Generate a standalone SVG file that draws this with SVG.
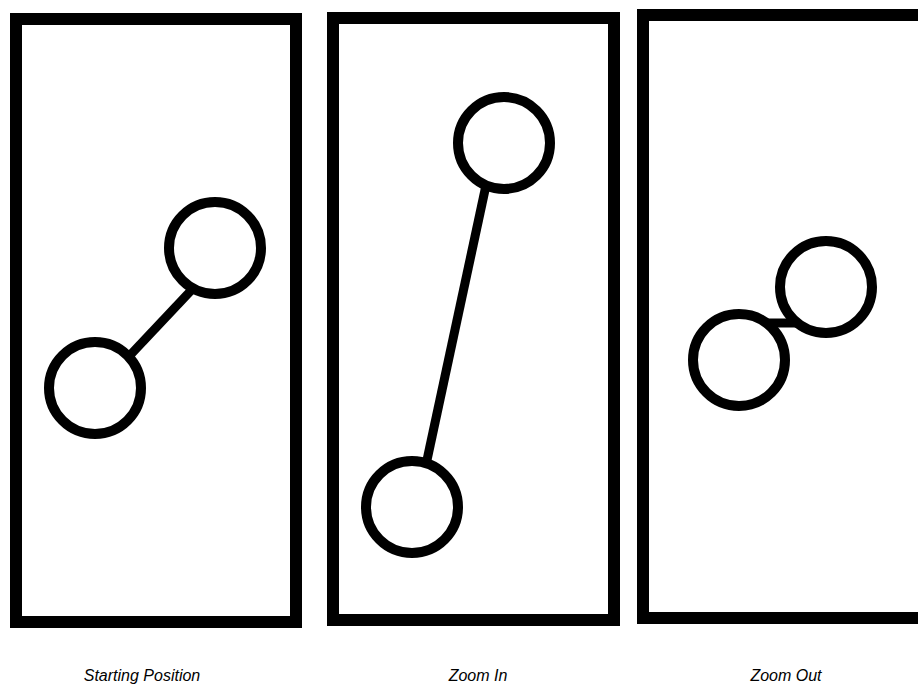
<svg xmlns="http://www.w3.org/2000/svg" width="918" height="684" viewBox="0 0 918 684">
<style>
.frame{fill:none;stroke:#000;stroke-width:12}
.node{fill:#fff;stroke:#000;stroke-width:10}
.edge{stroke:#000;stroke-width:9;fill:none}
.label{font-family:"Liberation Sans",Arial,sans-serif;font-size:16px;font-style:italic;fill:#000;text-anchor:middle}
</style>
<rect width="918" height="684" fill="#fff"/>
<g id="frames">
<rect class="frame" x="16" y="19" width="280" height="603"/>
<rect class="frame" x="333" y="18" width="281" height="602"/>
<rect class="frame" x="643" y="15" width="285" height="603"/>
</g>
<g id="connectors">
<line class="edge" x1="118" y1="368" x2="200" y2="281"/>
<line class="edge" x1="421" y1="488" x2="491" y2="162"/>
<line class="edge" x1="760" y1="323" x2="800" y2="323"/>
</g>
<g id="start-a"><circle class="node" cx="95" cy="388" r="46"/></g>
<g id="start-b"><circle class="node" cx="215" cy="248" r="46"/></g>
<g id="zoomin-a"><circle class="node" cx="412" cy="507" r="46"/></g>
<g id="zoomin-b"><circle class="node" cx="504" cy="143" r="46"/></g>
<g id="zoomout-a"><circle class="node" cx="739" cy="360" r="46"/></g>
<g id="zoomout-b"><circle class="node" cx="826" cy="287" r="46"/></g>
<g id="labels">
<text class="label" x="142" y="681">Starting Position</text>
<text class="label" x="478" y="681">Zoom In</text>
<text class="label" x="786" y="681">Zoom Out</text>
</g>
</svg>
